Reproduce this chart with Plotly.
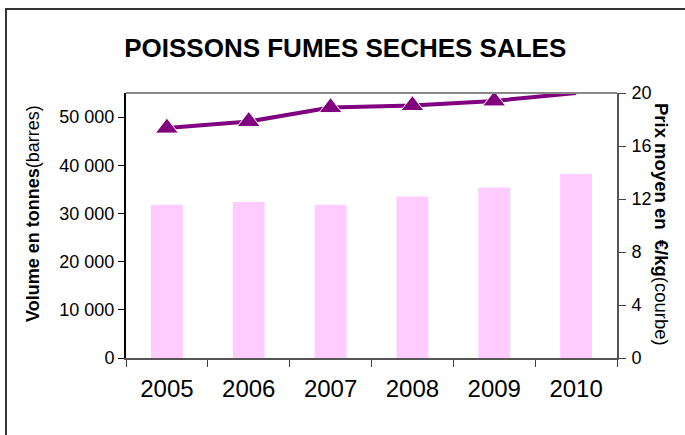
import plotly.graph_objects as go

annees = ["2005", "2006", "2007", "2008", "2009", "2010"]
volume_tonnes = [31800, 32400, 31800, 33500, 35400, 38200]
prix_moyen = [17.35, 17.85, 18.9, 19.05, 19.4, 20.0]

vol_ticks = [0, 10000, 20000, 30000, 40000, 50000]
prix_ticks = [0, 4, 8, 12, 16, 20]

FONT = "Liberation Sans, Arial, sans-serif"
W, H = 685, 435
L, R, T, B = 126, 68, 93, 77
pw, ph = W - L - R, H - T - B

fig = go.Figure()

fig.add_trace(go.Bar(
    x=annees, y=volume_tonnes, name="Volume",
    marker=dict(color="#FFCCFF", line=dict(width=0)),
    yaxis="y",
))

n = len(prix_moyen)
fig.add_trace(go.Scatter(
    x=annees, y=prix_moyen, name="Prix",
    mode="lines+markers",
    line=dict(color="#800080", width=4),
    marker=dict(symbol="triangle-up", size=[20] * (n - 1) + [0],
                color="#800080", opacity=1),
    yaxis="y2",
))

fig.update_layout(
    width=W, height=H,
    margin=dict(l=L, r=R, t=T, b=B),
    paper_bgcolor="white", plot_bgcolor="white",
    showlegend=False,
    bargap=0.61,
    separators=", ",
    font=dict(family=FONT, color="black"),
    title=dict(
        text="<b>POISSONS FUMES SECHES SALES</b>",
        x=0.504, xanchor="center", y=1 - 48 / H, yanchor="middle",
        font=dict(size=26, family=FONT, color="black"),
    ),
    xaxis=dict(
        type="category", tickson="boundaries",
        ticks="outside", ticklen=7, tickcolor="#444",
        showline=True, linecolor="#555", linewidth=2,
        mirror=False, showgrid=False,
        tickfont=dict(size=24), ticklabelstandoff=8,
    ),
    xaxis3=dict(
        overlaying="x", anchor="y", side="bottom",
        range=[-0.5, len(annees) - 0.5],
        tickmode="array", tickvals=[i - 0.5 for i in range(len(annees) + 1)],
        ticks="inside", ticklen=7, tickcolor="#444",
        showticklabels=False, showline=False, showgrid=False, zeroline=False,
    ),
    yaxis=dict(
        range=[0, 55000], tickmode="array", tickvals=vol_ticks,
        tickformat=",d",
        ticks="outside", ticklen=6, tickcolor="black",
        showline=True, linecolor="black", linewidth=2,
        showgrid=False, zeroline=False,
        tickfont=dict(size=18),
    ),
    yaxis3=dict(
        overlaying="y", anchor="x", side="left",
        range=[0, 55000], tickmode="array", tickvals=vol_ticks,
        ticks="inside", ticklen=6, tickcolor="black",
        showticklabels=False, showline=False, showgrid=False, zeroline=False,
    ),
    yaxis2=dict(
        overlaying="y", side="right", anchor="x",
        range=[0, 20], tickmode="array", tickvals=prix_ticks,
        ticks="outside", ticklen=7, tickcolor="#444",
        showline=True, linecolor="#555", linewidth=2,
        showgrid=False, zeroline=False,
        tickfont=dict(size=18), ticklabelstandoff=2,
    ),
    yaxis4=dict(
        overlaying="y", side="right", anchor="x",
        range=[0, 20], tickmode="array", tickvals=prix_ticks,
        ticks="inside", ticklen=7, tickcolor="#444",
        showticklabels=False, showline=False, showgrid=False, zeroline=False,
    ),
)

# top border of the plot area
fig.add_shape(type="line", xref="paper", yref="paper", x0=0, x1=1, y0=1, y1=1,
              line=dict(color="#888", width=2))

# outer frame of the chart (only left and top visible in the picture)
fx0 = (6 - L) / pw
fy1 = 1 + (T - 9) / ph
fig.add_shape(type="rect", xref="paper", yref="paper",
              x0=fx0, x1=1 + (R + 10) / pw, y0=-(B + 10) / ph, y1=fy1,
              line=dict(color="#333", width=2), layer="above")

fig.add_annotation(
    text="<b>Volume en tonnes</b>(barres)",
    xref="paper", yref="paper",
    x=(33 - L) / pw, y=1 - (214 - T) / ph,
    textangle=-90, showarrow=False,
    font=dict(size=18, family=FONT, color="black"),
    xanchor="center", yanchor="middle",
)
fig.add_annotation(
    text="<b>Prix moyen en  €/kg</b>(courbe)",
    xref="paper", yref="paper",
    x=(662 - L) / pw, y=1 - (224 - T) / ph,
    textangle=90, showarrow=False,
    font=dict(size=18.5, family=FONT, color="black"),
    xanchor="center", yanchor="middle",
)

fig.write_html("out.html", config={"displayModeBar": False},
               post_script="document.body.style.margin='0';")
